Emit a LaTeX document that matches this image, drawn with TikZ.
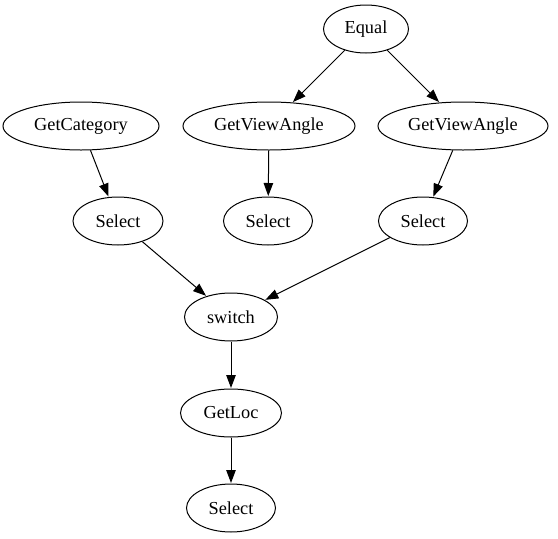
\documentclass[tikz,border=0pt]{standalone}
\usepackage{fontspec}
\setmainfont{Liberation Serif}
\usetikzlibrary{shapes.geometric,arrows.meta}
\tikzset{
  gnode/.style={ellipse, draw, line width=1pt, inner sep=0pt, minimum height=48pt, font=\fontsize{18.3}{20}\selectfont},
  gedge/.style={line width=1pt, -{Triangle[length=13pt,width=9.5pt]}, shorten >=0.5pt}
}
\begin{document}
\begin{tikzpicture}[x=1pt,y=-1pt]
\useasboundingbox (0,0) rectangle (558,539);
\node[gnode, minimum width=85pt]  (equal) at (366,29) {Equal};
\node[gnode, minimum width=156pt] (getcat) at (81,126) {GetCategory};
\node[gnode, minimum width=172pt] (gva1) at (269,126) {GetViewAngle};
\node[gnode, minimum width=170pt] (gva2) at (463,126) {GetViewAngle};
\node[gnode, minimum width=90pt]  (sel1) at (118,221) {Select};
\node[gnode, minimum width=89pt]  (sel2) at (268,221) {Select};
\node[gnode, minimum width=89pt]  (sel3) at (423,221) {Select};
\node[gnode, minimum width=93pt]  (switch) at (231,317) {switch};
\node[gnode, minimum width=101pt] (getloc) at (231,413) {GetLoc};
\node[gnode, minimum width=89pt]  (sel4) at (231,508) {Select};
\draw[gedge] (equal) -- (gva1);
\draw[gedge] (equal) -- (gva2);
\draw[gedge] (getcat) -- (sel1);
\draw[gedge] (gva1) -- (sel2);
\draw[gedge] (gva2) -- (sel3);
\draw[gedge] (sel1) -- (switch);
\draw[gedge] (sel3) -- (switch);
\draw[gedge] (switch) -- (getloc);
\draw[gedge] (getloc) -- (sel4);
\end{tikzpicture}
\end{document}
